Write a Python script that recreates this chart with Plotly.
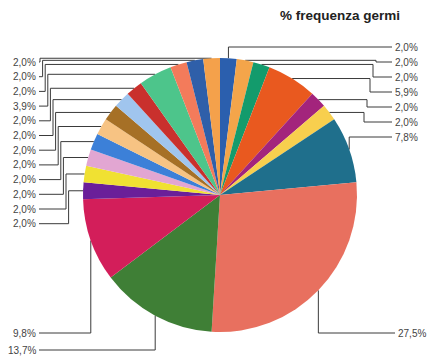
import math
import plotly.graph_objects as go

# ---- data ----
title_text = "% frequenza germi"
counts = [1, 1, 1, 3, 1, 1, 4, 14, 7, 5, 1, 1, 1, 1, 1, 1, 1, 1, 2, 1, 1, 1]
colors = ["#2b5fae", "#f4a54a", "#139b6c", "#e9591f", "#a3247c", "#f8cf4e",
          "#1f6f8c", "#e8705f", "#3f7f36", "#d31e5a", "#6a1f99", "#f0e132",
          "#e2a6d2", "#3c80d8", "#f7c383", "#a67026", "#a0c5ee", "#c9302d",
          "#4dc58b", "#f37b5b", "#2f5fa9", "#f4a14b"]

total = sum(counts)
pct_labels = [f"{100 * c / total:.1f}".replace(".", ",") + "%" for c in counts]

# ---- geometry (pixels) ----
W, H = 427, 358
cx, cy, r = 220, 195, 137

fig = go.Figure()
fig.add_trace(go.Pie(
    values=counts, marker=dict(colors=colors, line=dict(width=0)),
    sort=False, direction="clockwise", rotation=0, textinfo="none",
    hoverinfo="skip", showlegend=False,
    domain=dict(x=[(cx - r) / W, (cx + r) / W], y=[(H - cy - r) / H, (H - cy + r) / H]),
))

# mid angles / anchors
cum = 0
anchors = []
for c in counts:
    mid = (cum + c / 2) / total * 2 * math.pi
    anchors.append((cx + r * math.sin(mid), cy - r * math.cos(mid)))
    cum += c

lx, ly = [], []
annots = []
n = len(counts)
for k in range(n):
    ax, ay = anchors[k]
    if k <= 6:  # right column
        j = k
        y = 47 + 15 * j
        if j in (0, 6):
            pts = [(ax, ay), (ax, y), (392, y)]
        else:
            ex = 376 - 3 * (j - 1)
            pts = [(ax, ay), (ex, ay), (ex, y), (392, y)]
        annots.append((393, y, "left", pct_labels[k]))
    elif k == 7:
        y = 333
        pts = [(ax, ay), (ax, y), (395, y)]
        annots.append((396, y, "left", pct_labels[k]))
    elif k in (8, 9):
        y = 350 if k == 8 else 333
        pts = [(ax, ay), (ax, y), (39, y)]
        annots.append((38, y, "right", pct_labels[k]))
    else:  # left column
        i = (n - 1) - k
        y = 62 + 14.7 * i
        ex = 40 + 2.6 * i
        pts = [(ax, ay), (ex, ay), (ex, y), (39, y)]
        annots.append((38, y, "right", pct_labels[k]))
    for px, py in pts:
        lx.append(px)
        ly.append(py)
    lx.append(None)
    ly.append(None)

fig.add_trace(go.Scatter(x=lx, y=ly, mode="lines", line=dict(color="#3a3a3a", width=1),
                         hoverinfo="skip", showlegend=False))

for x, y, anc, t in annots:
    fig.add_annotation(x=x, y=y, xref="x", yref="y", text=t, showarrow=False,
                       xanchor=anc, yanchor="middle", xshift=0,
                       font=dict(family="Liberation Sans, Arial", size=10, color="#444444"))

fig.add_annotation(x=340, y=15, xref="x", yref="y", text="<b>" + title_text + "</b>",
                   showarrow=False, xanchor="center", yanchor="middle",
                   font=dict(family="Liberation Sans, Arial", size=13.5, color="#222222"))

fig.update_layout(
    width=W, height=H, margin=dict(l=0, r=0, t=0, b=0),
    paper_bgcolor="white", plot_bgcolor="rgba(0,0,0,0)",
    xaxis=dict(range=[0, W], visible=False, domain=[0, 1], fixedrange=True),
    yaxis=dict(range=[H, 0], visible=False, domain=[0, 1], fixedrange=True),
)

fig.write_html("out.html")
